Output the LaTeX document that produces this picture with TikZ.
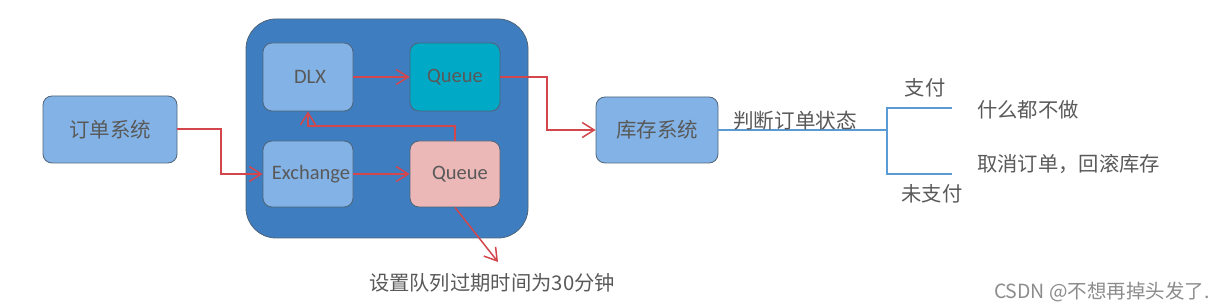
\documentclass[tikz,border=0pt]{standalone}
\usepackage{fontspec}
\setmainfont{Carlito}
\newfontfamily\cjk{Noto Sans CJK SC}
\usetikzlibrary{arrows.meta}
\definecolor{bigblue}{HTML}{3D7DC0}
\definecolor{lightblue}{HTML}{83B3E6}
\definecolor{teal}{HTML}{00A9C6}
\definecolor{pink}{HTML}{ECB7B7}
\definecolor{redline}{HTML}{D2464C}
\definecolor{blueline}{HTML}{5B9BD5}
\definecolor{txt}{HTML}{595959}
\definecolor{edge}{HTML}{4F6478}
\tikzset{
  box/.style={draw=edge, line width=0.8pt, rounded corners=9pt, text=txt, inner sep=0pt},
  redarrow/.style={draw=redline, line width=1.5pt, -{Straight Barb[length=12pt,width=15pt,line width=1.5pt]}},
  blueline/.style={draw=blueline, line width=1.3pt},
  lbl/.style={text=txt, font=\cjk\fontsize{20.3}{22}\selectfont, inner sep=0pt},
  latin/.style={font=\fontsize{20.5}{22}\selectfont},
}
\begin{document}
\begin{tikzpicture}[x=1pt,y=-1pt]
\useasboundingbox (0,0) rectangle (1219,307);
% big container
\draw[draw=edge, line width=0.8pt, fill=bigblue, rounded corners=30pt] (246,19) rectangle (528,238);
% boxes
\node[box, fill=lightblue, minimum width=134pt, minimum height=67pt, font=\cjk\fontsize{20.5}{22}\selectfont] (order) at (110,129.5) {订单系统};
\node[box, fill=lightblue, minimum width=90pt, minimum height=68pt, latin] (dlx) at (308,77) {\hspace{4pt}DLX};
\node[box, fill=teal, minimum width=90pt, minimum height=68pt, latin] (q1) at (455,77) {Queue};
\node[box, fill=lightblue, minimum width=90pt, minimum height=66pt, latin] (ex) at (308,174) {\hspace{6pt}Exchange};
\node[box, fill=pink, minimum width=90pt, minimum height=66pt, latin] (q2) at (455,174) {\hspace{10pt}Queue};
\node[box, fill=lightblue, minimum width=122pt, minimum height=66pt, font=\cjk\fontsize{20.5}{22}\selectfont] (stock) at (657,130) {库存系统};
% red connectors
\draw[redarrow] (order.east |- 0,129) -- (221,129) -- (221,174) -- (ex.west);
\draw[redarrow] (dlx.east) -- (q1.west);
\draw[redarrow] (ex.east) -- (q2.west);
\draw[redarrow] (q2.north) -- (455,126) -- (308,126) -- (dlx.south);
\draw[redarrow] (q1.east) -- (547,77) -- (547,130) -- (stock.west);
\coordinate (tip) at (498,262);
\draw[redarrow] (q2.south) -- (tip);
\node[lbl] (expire) at (492,283) {设置队列过期时间为30分钟};
% blue tree
\coordinate (fork) at (887,130);
\coordinate (topstub) at (952,108);
\coordinate (botstub) at (952,174);
\draw[blueline] (stock.east) -- (fork);
\draw[blueline] (topstub) -- (887,108) -- (887,174) -- (botstub);
\node[lbl, font=\cjk\fontsize{20.6}{22}\selectfont] (judge) at (795,121) {判断订单状态};
\node[lbl] (pay) at (925,88) {支付};
\node[lbl] (nopay) at (932,194) {未支付};
\node[lbl, anchor=west] (nothing) at (977,110) {什么都不做};
\node[lbl, anchor=west] (cancel) at (977,164) {取消订单，回滚库存};
\node[text=black!45, font=\cjk\fontsize{19.5}{21}\selectfont, anchor=east, inner sep=0pt] (wm) at (1210,292) {CSDN @不想再掉头发了.};
\end{tikzpicture}
\end{document}
